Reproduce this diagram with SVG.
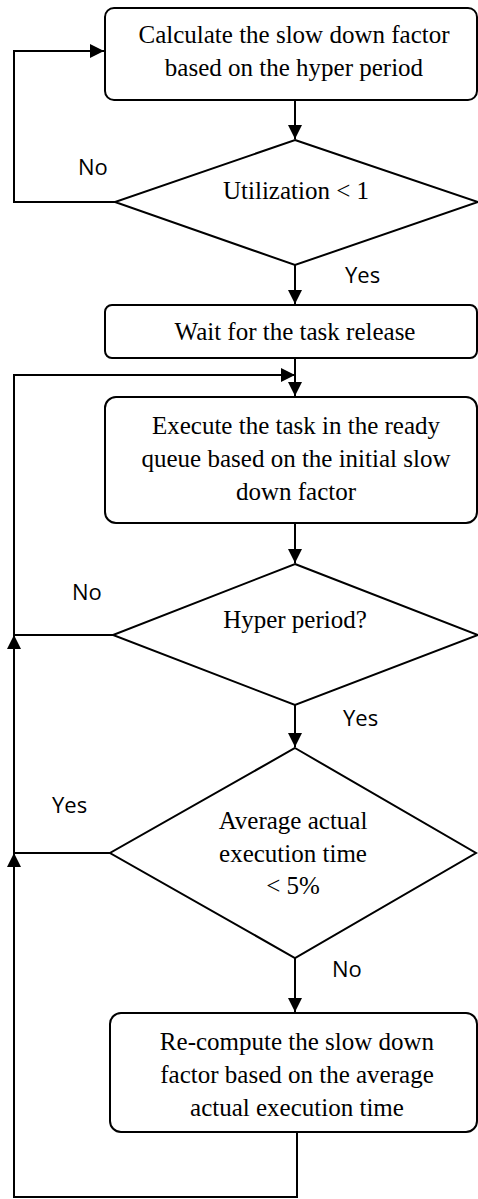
<svg xmlns="http://www.w3.org/2000/svg" width="478" height="1199" viewBox="0 0 478 1199">
<style>
.box{fill:#fff;stroke:#000;stroke-width:2}
.t{font-family:"Liberation Serif","Times New Roman",serif;font-size:25px;fill:#000;text-anchor:middle}
.lbl{font-family:"Open Sans","Liberation Sans",sans-serif;font-size:22px;fill:#000}
.c{fill:none;stroke:#000;stroke-width:2}
</style>
<defs>
<marker id="ah" markerUnits="userSpaceOnUse" markerWidth="14" markerHeight="14" refX="14" refY="7" orient="auto">
<path d="M0,0 L14,7 L0,14 Z" fill="#000"/>
</marker>
</defs>
<rect width="478" height="1199" fill="#fff"/>
<g id="connectors">
<path class="c" d="M295,100 V139" marker-end="url(#ah)"/>
<path class="c" d="M115,202 H14 V51 H104" marker-end="url(#ah)"/>
<path class="c" d="M295,265 V304" marker-end="url(#ah)"/>
<path class="c" d="M295,358 V396" marker-end="url(#ah)"/>
<path class="c" d="M113,635 H14 V375 H295" marker-end="url(#ah)"/>
<path class="c" d="M295,523 V563" marker-end="url(#ah)"/>
<path class="c" d="M295,705 V747" marker-end="url(#ah)"/>
<path class="c" d="M110,853 H14 V635" marker-end="url(#ah)"/>
<path class="c" d="M295,958 V1012" marker-end="url(#ah)"/>
<path class="c" d="M297,1132 V1197 H14 V853" marker-end="url(#ah)"/>
</g>
<g id="n1">
<rect class="box" x="105" y="8" width="372" height="92" rx="9"/>
<text class="t" x="294" y="43">Calculate the slow down factor</text>
<text class="t" x="294" y="76">based on the hyper period</text>
</g>
<g id="d1">
<polygon class="box" points="295,140 478,202 295,265 115,202"/>
<text class="t" x="296" y="199">Utilization &lt; 1</text>
</g>
<g id="n2">
<rect class="box" x="105" y="305" width="372" height="53" rx="7"/>
<text class="t" x="295" y="340">Wait for the task release</text>
</g>
<g id="n3">
<rect class="box" x="105" y="397" width="372" height="126" rx="11"/>
<text class="t" x="296" y="434">Execute the task in the ready</text>
<text class="t" x="296" y="467">queue based on the initial slow</text>
<text class="t" x="296" y="500">down factor</text>
</g>
<g id="d2">
<polygon class="box" points="295,564 478,635 295,705 113,635"/>
<text class="t" x="295" y="628">Hyper period?</text>
</g>
<g id="d3">
<polygon class="box" points="295,748 476,853 295,958 110,853"/>
<text class="t" x="293" y="829">Average actual</text>
<text class="t" x="293" y="862">execution time</text>
<text class="t" x="293" y="894">&lt; 5%</text>
</g>
<g id="n4">
<rect class="box" x="110" y="1013" width="367" height="119" rx="11"/>
<text class="t" x="297" y="1050">Re-compute the slow down</text>
<text class="t" x="297" y="1083">factor based on the average</text>
<text class="t" x="297" y="1116">actual execution time</text>
</g>
<g id="labels">
<text class="lbl" x="78" y="175">No</text>
<text class="lbl" x="345" y="283">Yes</text>
<text class="lbl" x="72" y="600">No</text>
<text class="lbl" x="343" y="726">Yes</text>
<text class="lbl" x="52" y="813">Yes</text>
<text class="lbl" x="332" y="977">No</text>
</g>
</svg>
